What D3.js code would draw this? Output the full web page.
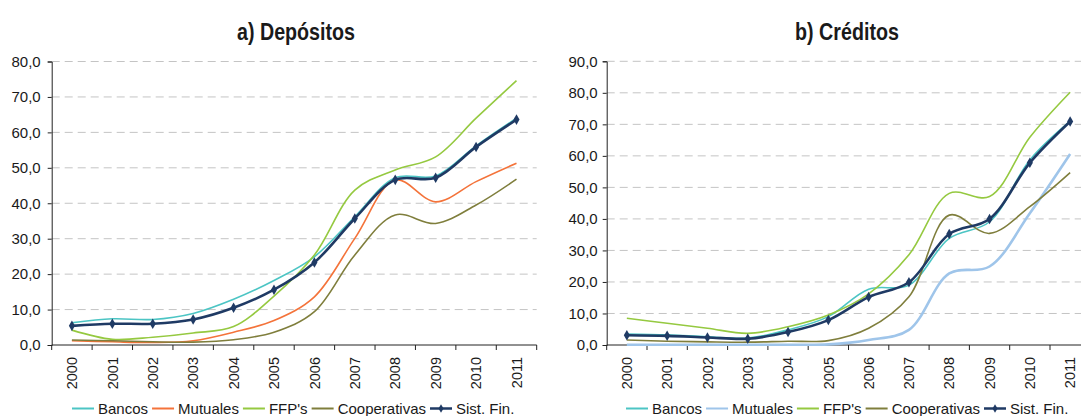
<!DOCTYPE html>
<html><head><meta charset="utf-8">
<script src="https://cdn.jsdelivr.net/npm/d3@7"></script>
<style>
html,body{margin:0;padding:0;background:#fff;}
svg{display:block;}
text{font-family:"Liberation Sans",Arial,sans-serif;fill:#1a1a1a;}
</style></head>
<body>
<svg id="c" width="1081" height="416"></svg>
<script>
const years = ["2000","2001","2002","2003","2004","2005","2006","2007","2008","2009","2010","2011"];
const seriesNames = ["Bancos","Mutuales","FFP's","Cooperativas","Sist. Fin."];

// a) Depósitos
const depBancos = [6.3,7.4,7.2,8.9,12.9,18.2,24.9,36.2,47.2,47.7,56.2,64.0];
const depMutuales = [1.2,0.9,0.7,1.2,3.6,6.9,13.6,30.1,46.6,40.4,46.1,51.3];
const depFFP = [4.2,1.6,2.2,3.4,5.2,13.8,25.4,43.7,49.4,53.1,64.0,74.6];
const depCoop = [1.4,1.2,0.9,0.8,1.5,3.6,9.4,25.4,36.7,34.3,39.5,46.8];
const depSist = [5.4,6.0,6.0,7.2,10.5,15.6,23.3,35.7,46.6,47.2,55.9,63.6];
const depTicks = [0,10,20,30,40,50,60,70,80];

// b) Créditos
const creBancos = [3.5,3.2,2.6,2.2,4.8,9.0,17.7,19.0,33.8,39.1,58.7,71.0];
const creMutuales = [0.1,0.1,0.1,0.1,0.1,0.2,1.6,4.8,22.7,24.9,41.8,60.6];
const creFFP = [8.5,6.9,5.3,3.7,5.8,9.5,16.2,28.6,48.1,47.1,65.9,80.2];
const creCoop = [1.6,1.2,1.0,0.9,1.2,1.4,5.3,15.3,41.2,35.4,43.9,54.7];
const creSist = [3.1,2.9,2.4,2.0,4.1,7.9,15.2,19.9,35.2,40.0,57.8,70.9];
const creTicks = [0,10,20,30,40,50,60,70,80,90];

const svg = d3.select("#c");
const fmt = v => d3.format(".1f")(v).replace(".", ",");

function panel(opt){
  const g = svg.append("g");
  const x = d3.scaleBand().domain(years).range([opt.x0, opt.x1]);
  const y = d3.scaleLinear().domain([0, opt.ymax]).range([345, opt.yTop]);
  const cx = d => x(d) + x.bandwidth()/2;

  // gridlines
  g.selectAll(".grid").data(opt.ticks.filter(t => t > 0)).join("line")
    .attr("x1", opt.x0).attr("x2", opt.x1)
    .attr("y1", d => y(d)).attr("y2", d => y(d))
    .attr("stroke", "#c4c4c4").attr("stroke-width", 1)
    .attr("stroke-dasharray", "8,5");

  // y axis
  const ya = d3.axisLeft(y).tickValues(opt.ticks).tickFormat(fmt).tickSize(4).tickPadding(opt.ypad);
  const yg = g.append("g").attr("transform", `translate(${opt.x0},0)`).call(ya);
  yg.select(".domain").attr("stroke", "#222");
  yg.selectAll(".tick line").attr("stroke", "#222");
  yg.selectAll("text").style("font-size", "15px").attr("fill", "#1a1a1a");

  // x axis
  const xg = g.append("g").attr("transform", "translate(0,345)");
  xg.append("line").attr("x1", opt.x0).attr("x2", opt.x1).attr("y1", 0).attr("y2", 0).attr("stroke", "#222");
  const bounds = years.map(d => x(d)).concat([opt.x1]);
  xg.selectAll(".xt").data(bounds).join("line")
    .attr("x1", d => d).attr("x2", d => d).attr("y1", 0).attr("y2", 5).attr("stroke", "#222");
  xg.selectAll(".xl").data(years).join("text")
    .attr("transform", d => `translate(${cx(d)},12) rotate(-90)`)
    .attr("text-anchor", "end").attr("dy", "0.36em")
    .style("font-size", "14.5px").text(d => d);

  // series
  const line = d3.line().x((d, i) => cx(years[i])).y(d => y(d)).curve(d3.curveCatmullRom.alpha(0.5));
  opt.series.forEach(s => {
    g.append("path").attr("d", line(s.values)).attr("fill", "none")
      .attr("stroke", s.color).attr("stroke-width", s.width);
    if (s.marker) {
      g.selectAll(null).data(s.values).join("path")
        .attr("transform", (d, i) => `translate(${cx(years[i])},${y(d)})`)
        .attr("d", d3.symbol().type(d3.symbolDiamond).size(32))
        .attr("fill", s.color);
    }
  });

  // title (condensed look via horizontal scale)
  svg.append("text").attr("transform", `translate(${opt.titleX},40) scale(0.82,1)`)
    .attr("text-anchor", "middle")
    .style("font-weight", "bold").style("font-size", "24px").attr("fill", "#111")
    .text(opt.title);

  // legend
  const lg = svg.append("g");
  let lx = opt.legendX;
  opt.legend.forEach(s => {
    lg.append("line").attr("x1", lx).attr("x2", lx + 22).attr("y1", 408.5).attr("y2", 408.5)
      .attr("stroke", s.color).attr("stroke-width", s.marker ? 2.5 : 2);
    if (s.marker) {
      lg.append("path").attr("transform", `translate(${lx + 11},408.5)`)
        .attr("d", d3.symbol().type(d3.symbolDiamond).size(22)).attr("fill", s.color);
    }
    const t = lg.append("text").attr("x", lx + 26).attr("y", 414).style("font-size", "15px").text(s.name);
    lx += 26 + t.node().getComputedTextLength() + 4;
  });
}

const cBancos = "#4cc5c4", cOrange = "#f4733a", cFFP = "#95c940", cCoop = "#7f7e3c", cSist = "#1f3a64", cLBlue = "#9fc5ea";

const depSeries = [
  {name: seriesNames[0], values: depBancos, color: cBancos, width: 1.6},
  {name: seriesNames[1], values: depMutuales, color: cOrange, width: 1.6},
  {name: seriesNames[2], values: depFFP, color: cFFP, width: 1.6},
  {name: seriesNames[3], values: depCoop, color: cCoop, width: 1.6},
  {name: seriesNames[4], values: depSist, color: cSist, width: 2.6, marker: true}
];
panel({x0: 51.7, x1: 536.7, yTop: 61.5, ymax: 80, ticks: depTicks, ypad: 7,
  series: depSeries, legend: depSeries, title: "a) Depósitos", titleX: 296, legendX: 72});

const creSeries = [
  {name: seriesNames[0], values: creBancos, color: cBancos, width: 1.6},
  {name: seriesNames[1], values: creMutuales, color: cLBlue, width: 2.6},
  {name: seriesNames[2], values: creFFP, color: cFFP, width: 1.6},
  {name: seriesNames[3], values: creCoop, color: cCoop, width: 1.6},
  {name: seriesNames[4], values: creSist, color: cSist, width: 2.6, marker: true}
];
panel({x0: 606.7, x1: 1090.3, yTop: 61.3, ymax: 90, ticks: creTicks, ypad: 5,
  series: creSeries, legend: creSeries, title: "b) Créditos", titleX: 847, legendX: 626});
</script>
</body></html>
